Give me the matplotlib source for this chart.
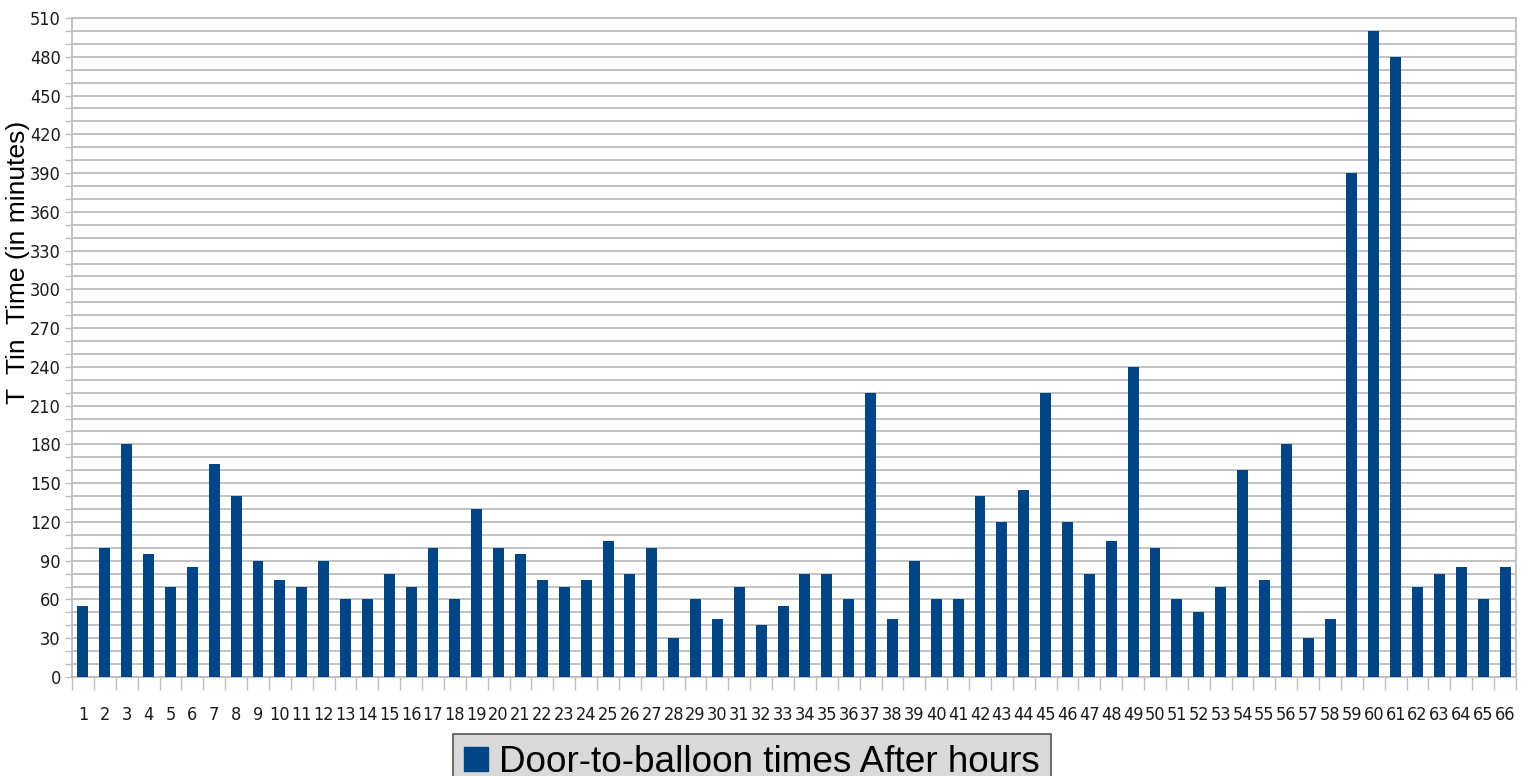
#!/usr/bin/python3

### Imports
from matplotlib import pyplot as plt
from matplotlib import font_manager as fm
from matplotlib.patches import Patch
from matplotlib.ticker import MultipleLocator

# case number 1..66 and door-to-balloon time in minutes
cases = list(range(1, 67))
times = [55, 100, 180, 95, 70, 85, 165, 140, 90, 75,
         70, 90, 60, 60, 80, 70, 100, 60, 130, 100,
         95, 75, 70, 75, 105, 80, 100, 30, 60, 45,
         70, 40, 55, 80, 80, 60, 220, 45, 90, 60,
         60, 140, 120, 145, 220, 120, 80, 105, 240, 100,
         60, 50, 70, 160, 75, 180, 30, 45, 390, 500,
         480, 70, 80, 85, 60, 85]
series_name = 'Door-to-balloon times After hours'
ylabel = 'T  Tin  Time (in minutes)'

bar_color = '#004586'
grid_color = '#bdbdbd'
wide = ['Liberation Sans', 'DejaVu Sans']

# the reference uses a narrow face for the tick numbers; use one if there is any
narrow_files = [f.fname for f in fm.fontManager.ttflist
                if f.name in ('Liberation Sans Narrow', 'DejaVu Sans')
                and f.stretch == 'condensed' and f.style == 'normal'
                and f.weight in (400, 'normal', 'regular')]
if narrow_files:
    xtick_font = fm.FontProperties(fname=narrow_files[0], size=13)
    ytick_font = fm.FontProperties(fname=narrow_files[0], size=13)
else:
    xtick_font = fm.FontProperties(family='Liberation Sans', size=12)
    ytick_font = fm.FontProperties(family='Liberation Sans', size=13)

fig = plt.figure(figsize=(15.3, 7.76), dpi=100)
ax = fig.add_axes([72/1530, 1-677/776, (1516-72)/1530, (677-18)/776])

ax.bar(cases, times, width=0.5, color=bar_color, zorder=3)

ax.set_xlim(0.5, 66.5)
ax.set_ylim(0, 510)

# y axis: labels every 30, grid + ticks every 10
ax.yaxis.set_major_locator(MultipleLocator(30))
ax.yaxis.set_minor_locator(MultipleLocator(10))
ax.grid(axis='y', which='both', color=grid_color, linewidth=1.3, zorder=0)
ax.tick_params(axis='y', which='both', direction='out', length=5, width=1,
               color=grid_color, pad=3, labelcolor='#1a1a1a')

# x axis: labels at centres, ticks between categories
ax.set_xticks(cases)
ax.set_xticks([c + 0.5 for c in cases[:-1]] + [0.5, 66.5], minor=True)
ax.tick_params(axis='x', which='major', length=0, pad=21, labelcolor='#1a1a1a')
ax.tick_params(axis='x', which='minor', direction='out', length=9, width=1,
               color=grid_color)

for lab in ax.get_xticklabels():
    lab.set_fontproperties(xtick_font)
for lab in ax.get_yticklabels():
    lab.set_fontproperties(ytick_font)

for s in ax.spines.values():
    s.set_color(grid_color)
    s.set_linewidth(1.3)

fig.text(18/1530, 1-262/776, ylabel, rotation=90, ha='center', va='center',
         fontsize=19, family=wide, color='#000000')

handle = Patch(facecolor=bar_color, edgecolor=bar_color)
leg = ax.legend([handle], [series_name], loc='upper left',
                bbox_to_anchor=(453/1530, 1-734/776), bbox_transform=fig.transFigure,
                borderaxespad=0, prop={'family': wide, 'size': 26.6},
                handlelength=0.65, handleheight=0.65, handletextpad=0.3,
                borderpad=0.3, frameon=True, fancybox=False)
leg.get_frame().set_facecolor('#d9d9d9')
leg.get_frame().set_edgecolor('#555555')
leg.get_frame().set_alpha(1)
leg.get_frame().set_linewidth(1.2)

fig.savefig('out.png', dpi=100)
